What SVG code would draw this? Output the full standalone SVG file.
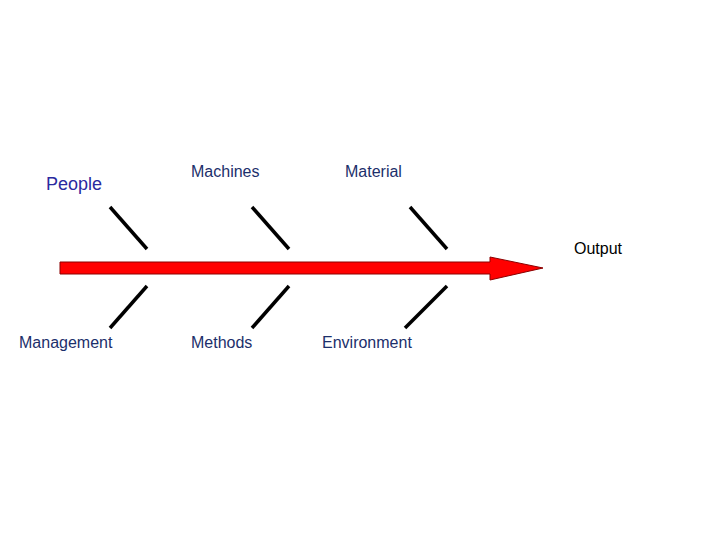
<svg xmlns="http://www.w3.org/2000/svg" width="720" height="540" viewBox="0 0 720 540">
<style>
.t{font-family:"Liberation Sans",Arial,sans-serif;font-size:16px;fill:#1c2f6b}
.b{stroke:#000;stroke-width:3.5;stroke-linecap:butt}
</style>
<rect width="720" height="540" fill="#fff"/>
<g id="connectors">
<path id="spine" d="M60,262 H490 V257 L543,268 L490,280 V274 H60 Z" fill="#ff0000" stroke="#8b0000" stroke-width="1"/>
<line class="b" x1="110" y1="207" x2="147" y2="249"/>
<line class="b" x1="252" y1="207" x2="289" y2="249"/>
<line class="b" x1="410" y1="207" x2="447" y2="249"/>
<line class="b" x1="147" y1="286" x2="110" y2="328"/>
<line class="b" x1="289" y1="286" x2="252" y2="328"/>
<line class="b" x1="447" y1="286" x2="405" y2="328"/>
</g>
<g id="people"><text x="46" y="190" class="t" style="font-size:18px;fill:#2a2aa0">People</text></g>
<g id="machines"><text x="191" y="177" class="t">Machines</text></g>
<g id="material"><text x="345" y="177" class="t">Material</text></g>
<g id="management"><text x="19" y="348" class="t">Management</text></g>
<g id="methods"><text x="191" y="348" class="t">Methods</text></g>
<g id="environment"><text x="322" y="348" class="t">Environment</text></g>
<g id="output"><text x="574" y="254" class="t" style="fill:#000">Output</text></g>
</svg>
